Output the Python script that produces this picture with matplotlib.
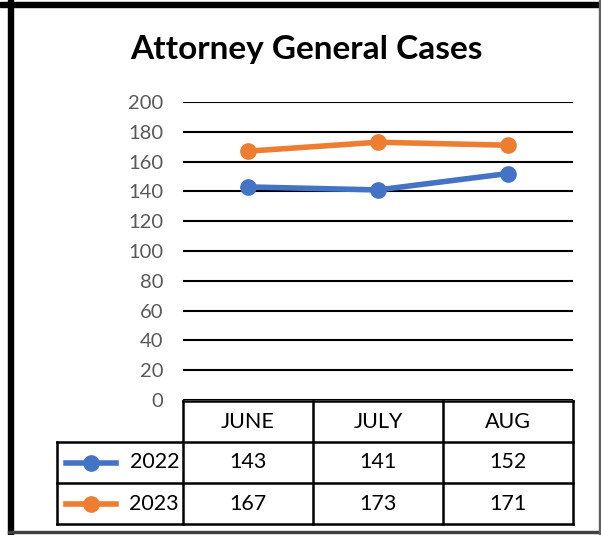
import matplotlib.pyplot as plt
from matplotlib.patches import Rectangle
from matplotlib.lines import Line2D

#### データ ####
months = ["JUNE", "JULY", "AUG"]
years = ["2022", "2023"]
cases_2022 = [143, 141, 152]
cases_2023 = [167, 173, 171]
colors = ["#4472C4", "#ED7D31"]
yticks = list(range(0, 201, 20))

W, H = 601, 535
fig = plt.figure(figsize=(W / 100, H / 100), dpi=100)
plt.rcParams["font.family"] = ["Lato", "DejaVu Sans"]


def fbox(x0, y0, x1, y1):
    # ピクセル座標 (上が0) -> figure座標
    return [x0 / W, 1 - y1 / H, (x1 - x0) / W, (y1 - y0) / H]


#### 枠線 ####
fig.patches.append(Rectangle((8 / W, 0), 5 / W, 1, transform=fig.transFigure, color="black"))
fig.patches.append(Rectangle((0, 1 - 7 / H), 1, 5 / H, transform=fig.transFigure, color="black"))
fig.patches.append(Rectangle((8 / W, 1 - 533 / H), 1, 2 / H, transform=fig.transFigure, color="#404040"))
fig.patches.append(Rectangle((599 / W, 0), 2 / W, 1, transform=fig.transFigure, color="#606060"))

#### 折れ線グラフ ####
ax = fig.add_axes(fbox(183, 102, 573, 400))
x = range(len(months))
series = [cases_2022, cases_2023]
for vals, c in zip(series, colors):
    ax.plot(x, vals, color=c, lw=4, marker="o", ms=11, solid_capstyle="round", zorder=3)

ax.set_xlim(-0.5, 2.5)
ax.set_ylim(0, 200)
ax.set_yticks(yticks)
ax.set_xticks([])
ax.yaxis.grid(True, color="black", lw=1.5)
ax.set_axisbelow(True)
ax.tick_params(axis="y", length=0, pad=14, labelsize=14.5, labelcolor="#595959")
for s in ax.spines.values():
    s.set_visible(False)

fig.text(306 / W, 1 - 50 / H, "Attorney General Cases", ha="center", va="center",
         fontsize=24, fontweight="bold")

#### データテーブル ####
tab = fig.add_axes(fbox(57, 401, 575, 524))
left = -0.5 - 126 / 130
tab.set_xlim(left, 2.5 + 2 / 130)
tab.set_ylim(3, 0)
tab.axis("off")
lw = 1.8
# 横線
tab.plot([-0.5, 2.5], [0, 0], color="black", lw=lw, clip_on=False)
for yy in [1, 2, 3]:
    tab.plot([left, 2.5], [yy, yy], color="black", lw=lw, clip_on=False)
# 縦線
for xx in [-0.5, 0.5, 1.5, 2.5]:
    tab.plot([xx, xx], [0, 3], color="black", lw=lw, clip_on=False)
tab.plot([left, left], [1, 3], color="black", lw=lw, clip_on=False)

fs = 15.5
for i, m in enumerate(months):
    tab.text(i, 0.5, m, ha="center", va="center", fontsize=fs)
for r, (yr, vals, c) in enumerate(zip(years, series, colors)):
    yc = r + 1.5
    # 凡例キー
    tab.add_line(Line2D([left + 0.07, left + 0.45], [yc, yc], color=c, lw=4))
    tab.plot([left + 0.26], [yc], marker="o", color=c, ms=11)
    tab.text(-0.53, yc, yr, ha="right", va="center", fontsize=fs)
    for i, v in enumerate(vals):
        tab.text(i, yc, str(v), ha="center", va="center", fontsize=fs)

plt.savefig("out.png", dpi=100)
